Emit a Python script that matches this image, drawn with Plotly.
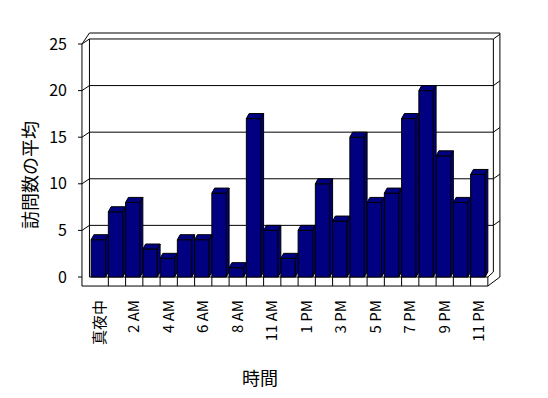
import plotly.graph_objects as go

# ---- data ----
categories = ["真夜中", "1 AM", "2 AM", "3 AM", "4 AM", "5 AM", "6 AM", "7 AM", "8 AM", "9 AM",
              "11 AM", "正午", "1 PM", "2 PM", "3 PM", "4 PM", "5 PM", "6 PM", "7 PM", "8 PM",
              "9 PM", "10 PM", "11 PM"]
visits = [4, 7, 8, 3, 2, 4, 4, 9, 1, 17, 5, 2, 5, 10, 6, 15, 8, 9, 17, 20, 13, 8, 11]
y_ticks = [0, 5, 10, 15, 20, 25]
x_title = "時間"
y_title = "訪問数の平均"

# ---- pseudo-3D geometry (in axis units) ----
BAR_W = 0.84
BAR_DX = 0.16
BAR_DY = 0.54
WALL_DX = 0.435
WALL_DY = 0.54
AXIS_U = -0.53
FLOOR_DROP = 0.97
N = len(visits)
RIGHT_IN = N + 0.32
RIGHT_OUT = N + 0.70
YMAX = y_ticks[-1]
TOP_OUT = YMAX + 1.18
NAVY = "#000080"

idx = list(range(N))

fig = go.Figure()

# front faces as bars
fig.add_trace(go.Bar(
    x=[i + BAR_W / 2 for i in idx], y=visits, width=BAR_W,
    marker=dict(color=NAVY, line=dict(color="black", width=1)),
    hoverinfo="skip"))

# side and top faces
sx, sy, tx, ty = [], [], [], []
for i, v in zip(idx, visits):
    sx += [i + BAR_W, i + BAR_W + BAR_DX, i + BAR_W + BAR_DX, i + BAR_W, i + BAR_W, None]
    sy += [0, BAR_DY, v + BAR_DY, v, 0, None]
    tx += [i, i + BAR_DX, i + BAR_W + BAR_DX, i + BAR_W, i, None]
    ty += [v, v + BAR_DY, v + BAR_DY, v, v, None]
for xs, ys in ((sx, sy), (tx, ty)):
    fig.add_trace(go.Scatter(x=xs, y=ys, mode="lines", fill="toself", fillcolor=NAVY,
                             line=dict(color="black", width=1), hoverinfo="skip"))

# ---- frame ----
shapes = []
def seg(x0, y0, x1, y1):
    shapes.append(dict(type="line", xref="x", yref="y", x0=x0, y0=y0, x1=x1, y1=y1,
                       line=dict(color="black", width=1), layer="below"))

seg(AXIS_U, YMAX, AXIS_U, -FLOOR_DROP)
seg(AXIS_U + WALL_DX, YMAX + WALL_DY, AXIS_U + WALL_DX, 0)
for v in y_ticks:
    seg(AXIS_U - 0.23, v, AXIS_U, v)
    if v > 0:
        seg(AXIS_U, v, AXIS_U + WALL_DX, v + WALL_DY)
        seg(AXIS_U + WALL_DX, v + WALL_DY, RIGHT_IN, v + WALL_DY)
        seg(RIGHT_IN, v + WALL_DY, RIGHT_OUT, v + WALL_DY + 0.5)
seg(AXIS_U + WALL_DX, TOP_OUT, RIGHT_OUT, TOP_OUT)
seg(AXIS_U, YMAX, AXIS_U + WALL_DX, TOP_OUT)
seg(RIGHT_IN, YMAX + WALL_DY, RIGHT_IN, WALL_DY)
seg(RIGHT_OUT, TOP_OUT, RIGHT_OUT, 0)
seg(RIGHT_OUT, 0, N, -FLOOR_DROP)
seg(N, 0, RIGHT_IN, WALL_DY)
seg(AXIS_U, -FLOOR_DROP, N, -FLOOR_DROP)
seg(AXIS_U + WALL_DX, 0, N, 0)
for k in range(1, N + 1):
    seg(k, 0, k, -FLOOR_DROP)

# ---- axes (page has an 8px body margin, so work in figure coords) ----
OFF = 8
FIG_W, FIG_H = 548 - OFF, 398 - OFF
PX_U = 17.25
PX_V = 9.32
plot_l, plot_r, plot_t, plot_b = 76 - OFF, 508 - OFF, 26 - OFF, 289 - OFF
U0 = 91.1 - OFF
V0 = 277 - OFF
x_range = [(plot_l - U0) / PX_U, (plot_r - U0) / PX_U]
y_range = [(V0 - plot_b) / PX_V, (V0 - plot_t) / PX_V]

def paper_x(px):
    return (px - OFF - plot_l) / (plot_r - plot_l)

def paper_y(py):
    return (plot_b - (py - OFF)) / (plot_b - plot_t)

annotations = [
    dict(text=x_title, xref="paper", yref="paper", x=paper_x(260), y=paper_y(377),
         xanchor="center", yanchor="middle", showarrow=False, font=dict(size=18)),
    dict(text=y_title, xref="paper", yref="paper", x=paper_x(29), y=paper_y(175),
         xanchor="center", yanchor="middle", showarrow=False, textangle=-90,
         font=dict(size=18)),
]

fig.update_layout(
    width=FIG_W, height=FIG_H,
    margin=dict(l=plot_l, r=FIG_W - plot_r, t=plot_t, b=FIG_H - plot_b),
    paper_bgcolor="white", plot_bgcolor="white",
    showlegend=False,
    shapes=shapes,
    annotations=annotations,
    font=dict(family="Noto Sans CJK JP", color="black"),
    xaxis=dict(range=x_range, showgrid=False, zeroline=False, showline=False,
               tickmode="array",
               tickvals=[i + 0.5 for i in idx[::2]],
               ticktext=categories[::2],
               tickangle=-90, tickfont=dict(size=15), ticklabelstandoff=7,
               automargin=False, fixedrange=True),
    yaxis=dict(range=y_range, showgrid=False, zeroline=False, showline=False,
               tickmode="array", tickvals=y_ticks, ticktext=[str(t) for t in y_ticks],
               tickfont=dict(size=16), ticklabelstandoff=8,
               automargin=False, fixedrange=True),
)

fig.write_html("out.html")
